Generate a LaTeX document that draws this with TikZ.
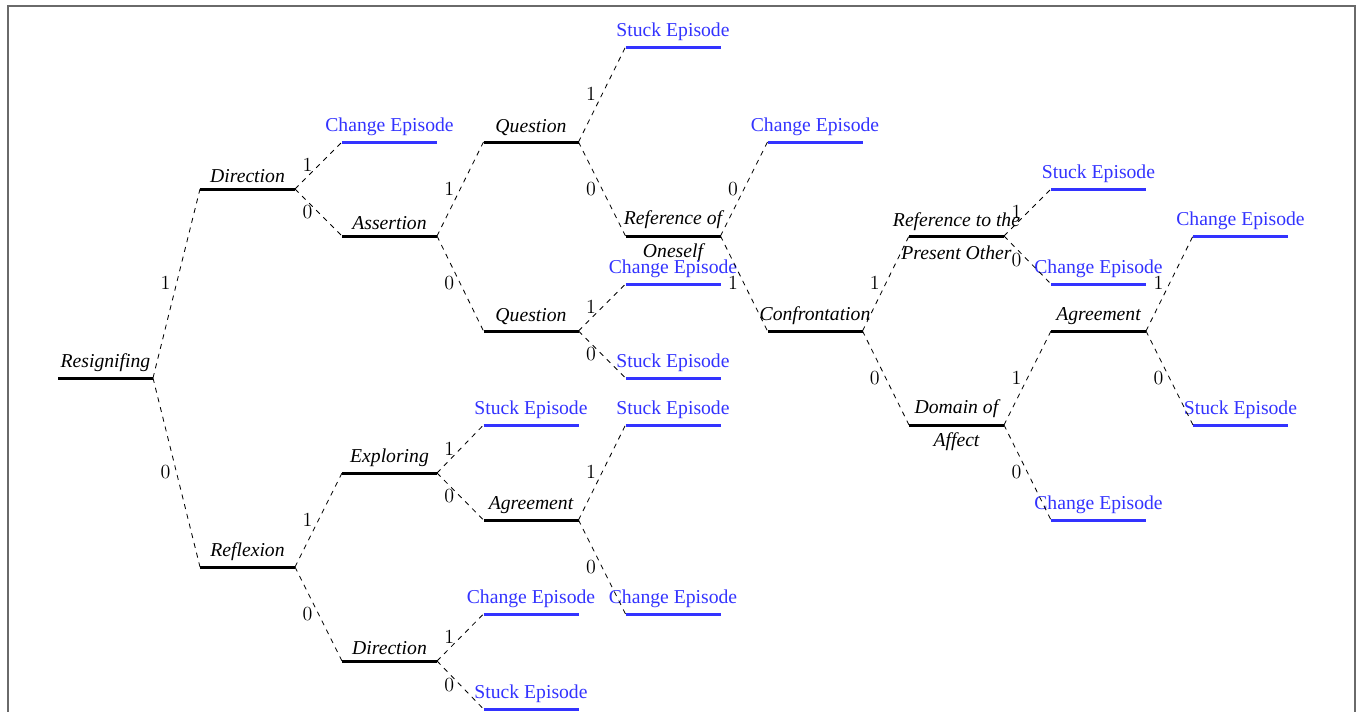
\documentclass[tikz,border=0pt]{standalone}
\usepackage[no-math]{fontspec}
\setmainfont{Liberation Serif}
\definecolor{leafblue}{RGB}{51,51,255}
\definecolor{frame}{HTML}{6A6A6A}

\begin{document}
\begin{tikzpicture}[x=.6pt,y=-.6pt,font=\fontsize{11.8}{14}\selectfont,
  bar/.style={minimum width=57pt,minimum height=0pt,inner sep=0pt,outer sep=0pt},
  tag/.style={font=\fontsize{11.8}{14}\selectfont\itshape},
  twotag/.style={font=\fontsize{11.8}{19.8}\selectfont\itshape,align=center},
  leaftag/.style={text=leafblue},
  branch/.style={dashed,line width=.5pt},
  bit/.style={midway,left}]

\useasboundingbox (0,0) rectangle (1357,712);
\draw[frame,line width=1.2pt] (7.5,740)--(7.5,6)--(1355,6)--(1355,740);

% decision nodes
\node[bar,label={[tag]above:Resignifing}] (res) at (105.5,378) {};
\node[bar,label={[tag]above:Direction}] (dir1) at (247.5,189) {};
\node[bar,label={[tag]above:Reflexion}] (refl) at (247.5,567) {};
\node[bar,label={[tag]above:Assertion}] (asrt) at (389.5,236) {};
\node[bar,label={[tag]above:Exploring}] (expl) at (389.5,473) {};
\node[bar,label={[tag]above:Direction}] (dir2) at (389.5,661) {};
\node[bar,label={[tag]above:Question}] (qst1) at (531,142) {};
\node[bar,label={[tag]above:Question}] (qst2) at (531,331) {};
\node[bar,label={[tag]above:Agreement}] (agr1) at (531,520) {};
\node[bar,label={[twotag]center:{Reference of\\Oneself}}] (refo) at (673,236) {};
\node[bar,label={[tag]above:Confrontation}] (conf) at (815,331) {};
\node[bar,label={[twotag]center:{Reference to the\\Present Other}}] (refp) at (956.5,236) {};
\node[bar,label={[twotag]center:{Domain of\\Affect}}] (dom) at (956.5,425) {};
\node[bar,label={[tag]above:Agreement}] (agr2) at (1098.5,331) {};

% episodes
\node[bar,label={[leaftag]above:Change Episode}] (ch1) at (389.5,142) {};
\node[bar,label={[leaftag]above:Stuck Episode}] (st1) at (531,425) {};
\node[bar,label={[leaftag]above:Change Episode}] (ch2) at (531,614) {};
\node[bar,label={[leaftag]above:Stuck Episode}] (st2) at (531,709) {};
\node[bar,label={[leaftag]above:Stuck Episode}] (st3) at (673,47) {};
\node[bar,label={[leaftag]above:Change Episode}] (ch3) at (673,284) {};
\node[bar,label={[leaftag]above:Stuck Episode}] (st4) at (673,378) {};
\node[bar,label={[leaftag]above:Stuck Episode}] (st5) at (673,425) {};
\node[bar,label={[leaftag]above:Change Episode}] (ch4) at (673,614) {};
\node[bar,label={[leaftag]above:Change Episode}] (ch5) at (815,142) {};
\node[bar,label={[leaftag]above:Stuck Episode}] (st6) at (1098.5,189) {};
\node[bar,label={[leaftag]above:Change Episode}] (ch6) at (1098.5,284) {};
\node[bar,label={[leaftag]above:Change Episode}] (ch7) at (1098.5,520) {};
\node[bar,label={[leaftag]above:Change Episode}] (ch8) at (1240.5,236) {};
\node[bar,label={[leaftag]above:Stuck Episode}] (st7) at (1240.5,425) {};

\foreach \n in {res,dir1,refl,asrt,expl,dir2,qst1,qst2,agr1,refo,conf,refp,dom,agr2}
  \draw[line width=1.8pt] (\n.west)--(\n.east);
\foreach \n in {ch1,st1,ch2,st2,st3,ch3,st4,st5,ch4,ch5,st6,ch6,ch7,ch8,st7}
  \draw[leafblue,line width=1.8pt] (\n.west)--(\n.east);

% branches
\draw[branch] (res.east)--node[bit]{$1$} (dir1.west);
\draw[branch] (res.east)--node[bit]{$0$} (refl.west);
\draw[branch] (dir1.east)--node[bit]{$1$} (ch1.west);
\draw[branch] (dir1.east)--node[bit]{$0$} (asrt.west);
\draw[branch] (asrt.east)--node[bit]{$1$} (qst1.west);
\draw[branch] (asrt.east)--node[bit]{$0$} (qst2.west);
\draw[branch] (qst1.east)--node[bit]{$1$} (st3.west);
\draw[branch] (qst1.east)--node[bit]{$0$} (refo.west);
\draw[branch] (qst2.east)--node[bit]{$1$} (ch3.west);
\draw[branch] (qst2.east)--node[bit]{$0$} (st4.west);
\draw[branch] (refo.east)--node[bit]{$0$} (ch5.west);
\draw[branch] (refo.east)--node[bit]{$1$} (conf.west);
\draw[branch] (conf.east)--node[bit]{$1$} (refp.west);
\draw[branch] (conf.east)--node[bit]{$0$} (dom.west);
\draw[branch] (refp.east)--node[bit]{$1$} (st6.west);
\draw[branch] (refp.east)--node[bit]{$0$} (ch6.west);
\draw[branch] (dom.east)--node[bit]{$1$} (agr2.west);
\draw[branch] (dom.east)--node[bit]{$0$} (ch7.west);
\draw[branch] (agr2.east)--node[bit]{$1$} (ch8.west);
\draw[branch] (agr2.east)--node[bit]{$0$} (st7.west);
\draw[branch] (refl.east)--node[bit]{$1$} (expl.west);
\draw[branch] (refl.east)--node[bit]{$0$} (dir2.west);
\draw[branch] (expl.east)--node[bit]{$1$} (st1.west);
\draw[branch] (expl.east)--node[bit]{$0$} (agr1.west);
\draw[branch] (agr1.east)--node[bit]{$1$} (st5.west);
\draw[branch] (agr1.east)--node[bit]{$0$} (ch4.west);
\draw[branch] (dir2.east)--node[bit]{$1$} (ch2.west);
\draw[branch] (dir2.east)--node[bit]{$0$} (st2.west);

\end{tikzpicture}
\end{document}
